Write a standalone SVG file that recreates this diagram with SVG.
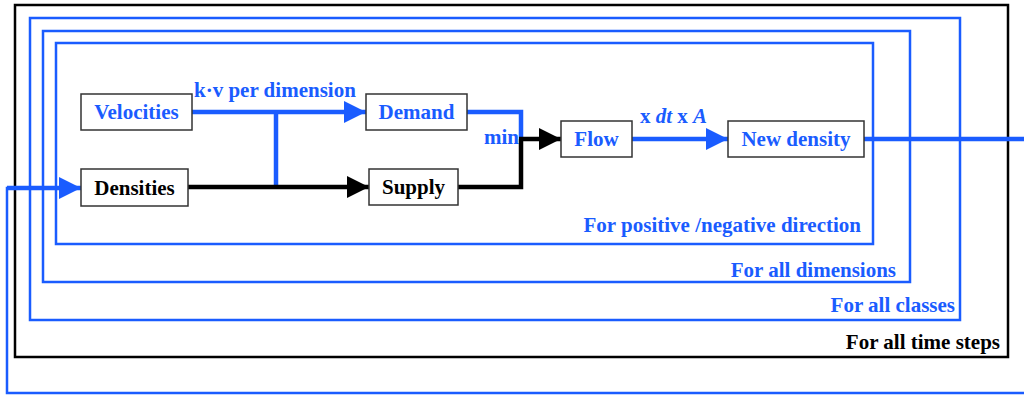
<svg xmlns="http://www.w3.org/2000/svg" width="1024" height="395" viewBox="0 0 1024 395">
  <style>
    .bg { fill: #ffffff; }
    .loop { fill: none; stroke-width: 2.5; }
    .loop-blue { stroke: #1a5cff; }
    .loop-black { stroke: #000000; }
    .box { fill: #ffffff; stroke: #333333; stroke-width: 1.5; }
    .t { font-family: "Liberation Serif", "Times New Roman", serif; font-weight: bold; font-size: 21px; }
    .blue { fill: #1a5cff; }
    .black { fill: #000000; }
    .wire { fill: none; stroke-width: 4.5; }
    .wire-blue { stroke: #1a5cff; }
    .wire-black { stroke: #000000; }
  </style>
  <defs>
    <marker id="arrow-blue" viewBox="0 0 10 10" refX="10" refY="5" markerUnits="userSpaceOnUse" markerWidth="22" markerHeight="22" orient="auto">
      <path d="M0,0 L10,5 L0,10 Z" fill="#1a5cff"/>
    </marker>
    <marker id="arrow-black" viewBox="0 0 10 10" refX="10" refY="5" markerUnits="userSpaceOnUse" markerWidth="22" markerHeight="22" orient="auto">
      <path d="M0,0 L10,5 L0,10 Z" fill="#000000"/>
    </marker>
  </defs>

  <rect class="bg" x="0" y="0" width="1024" height="395"/>

  <!-- nested loop frames -->
  <g id="loop-time-steps">
    <rect class="loop loop-black" x="15" y="5" width="993" height="352"/>
    <text class="t black" x="1000" y="349" text-anchor="end">For all time steps</text>
  </g>
  <g id="loop-classes">
    <rect class="loop loop-blue" x="30" y="18" width="930" height="302"/>
    <text class="t blue" x="955" y="312" text-anchor="end">For all classes</text>
  </g>
  <g id="loop-dimensions">
    <rect class="loop loop-blue" x="43" y="31" width="867" height="251"/>
    <text class="t blue" x="896" y="277" text-anchor="end">For all dimensions</text>
  </g>
  <g id="loop-direction">
    <rect class="loop loop-blue" x="56" y="43" width="817" height="201"/>
    <text class="t blue" x="861" y="232" text-anchor="end">For positive /negative direction</text>
  </g>

  <!-- connectors -->
  <g id="connectors">
    <!-- feedback of new density into densities -->
    <polyline class="wire wire-blue" points="864,139 1026,139" />
    <polyline class="loop loop-blue" points="1026,393 7,393 7,188 30,188" />
    <line class="wire wire-blue" x1="7" y1="188" x2="81" y2="188" marker-end="url(#arrow-blue)"/>
    <!-- velocities to demand -->
    <line class="wire wire-blue" x1="192" y1="112" x2="366" y2="112" marker-end="url(#arrow-blue)"/>
    <line class="wire wire-blue" x1="276" y1="112" x2="276" y2="186"/>
    <!-- densities to supply -->
    <line class="wire wire-black" x1="188" y1="187" x2="369" y2="187" marker-end="url(#arrow-black)"/>
    <!-- demand / supply to min -->
    <polyline class="wire wire-blue" points="467,112 521,112 521,139" />
    <polyline class="wire wire-black" points="458,187 521,187 521,139" />
    <line class="wire wire-black" x1="519" y1="139" x2="561" y2="139" marker-end="url(#arrow-black)"/>
    <!-- flow to new density -->
    <line class="wire wire-blue" x1="632" y1="139" x2="728" y2="139" marker-end="url(#arrow-blue)"/>
    <text class="t blue" x="194" y="97">k·v per dimension</text>
    <text class="t blue" x="484" y="144">min</text>
    <text class="t blue" x="640" y="123">x <tspan font-style="italic">dt</tspan> x <tspan font-style="italic">A</tspan></text>
  </g>

  <!-- nodes -->
  <g id="node-velocities">
    <rect class="box" x="81" y="94" width="111" height="36"/>
    <text class="t blue" x="136.5" y="119" text-anchor="middle">Velocities</text>
  </g>
  <g id="node-densities">
    <rect class="box" x="81" y="169" width="107" height="37"/>
    <text class="t black" x="134.5" y="195" text-anchor="middle">Densities</text>
  </g>
  <g id="node-demand">
    <rect class="box" x="366" y="94" width="101" height="36"/>
    <text class="t blue" x="416.5" y="119" text-anchor="middle">Demand</text>
  </g>
  <g id="node-supply">
    <rect class="box" x="369" y="169" width="89" height="36"/>
    <text class="t black" x="413.5" y="194" text-anchor="middle">Supply</text>
  </g>
  <g id="node-flow">
    <rect class="box" x="561" y="121" width="71" height="36"/>
    <text class="t blue" x="596.5" y="146" text-anchor="middle">Flow</text>
  </g>
  <g id="node-new-density">
    <rect class="box" x="728" y="121" width="136" height="36"/>
    <text class="t blue" x="796" y="146" text-anchor="middle">New density</text>
  </g>
</svg>
